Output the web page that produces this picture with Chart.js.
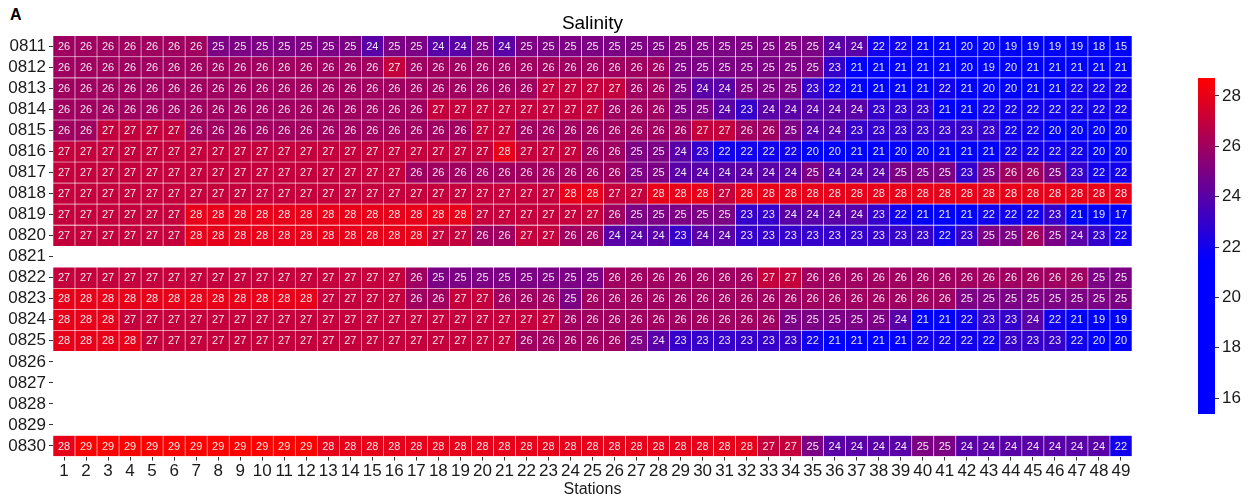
<!DOCTYPE html>
<html>
<head>
<meta charset="utf-8">
<title>Salinity</title>
<script src="https://cdn.jsdelivr.net/npm/chart.js@4.4.0/dist/chart.umd.min.js"></script>
<style>
body{margin:0;background:#fff;width:1250px;height:500px;overflow:hidden;position:relative;font-family:"Liberation Sans",Arial,sans-serif}
#main{position:absolute;left:0;top:0}
#bar{position:absolute;left:1150px;top:0}
#tag{position:absolute;left:10px;top:6px;font-weight:bold;font-size:16px;color:#000}
</style>
</head>
<body>
<div id="tag">A</div>
<canvas id="main" width="1150" height="500"></canvas>
<canvas id="bar" width="100" height="500"></canvas>
<script>
// sampling days (rows) and stations (columns)
var dates = ['0811','0812','0813','0814','0815','0816','0817','0818','0819','0820',
             '0821','0822','0823','0824','0825','0826','0827','0828','0829','0830'];
var stations = ['1','2','3','4','5','6','7','8','9','10','11','12','13','14','15','16','17','18','19','20',
                '21','22','23','24','25','26','27','28','29','30','31','32','33','34','35','36','37','38','39','40',
                '41','42','43','44','45','46','47','48','49'];

// salinity per day, stations 1..49 (no data on 0821, 0826-0829)
var s0811 = [26,26,26,26,26,26,26,25,25,25,25,25, 25,25,24,25,25,24,24,25,24,25,25,25, 25,25,25,25,25,25,25,25,25,25,25,24,24, 22,22,21,21,20,20,19,19,19,19,18,15];
var s0812 = [26,26,26,26,26,26,26,26,26,26,26,26, 26,26,26,27,26,26,26,26,26,26,26,26, 26,26,26,26,25,25,25,25,25,25,25,23,21, 21,21,21,21,20,19,20,21,21,21,21,21];
var s0813 = [26,26,26,26,26,26,26,26,26,26,26,26, 26,26,26,26,26,26,26,26,26,26,27,27, 27,27,26,26,25,24,24,25,25,25,23,22,21, 21,21,21,22,21,20,20,21,21,22,22,22];
var s0814 = [26,26,26,26,26,26,26,26,26,26,26,26, 26,26,26,26,26,27,27,27,27,27,27,27, 27,26,26,26,25,25,24,23,24,24,24,24,24, 23,23,23,21,21,22,22,22,22,22,22,22];
var s0815 = [26,26,27,27,27,27,26,26,26,26,26,26, 26,26,26,26,26,26,26,27,27,26,26,26, 26,26,26,26,26,27,27,26,26,25,24,24,23, 23,23,23,23,23,23,22,22,20,20,20,20];
var s0816 = [27,27,27,27,27,27,27,27,27,27,27,27, 27,27,27,27,27,27,27,27,28,27,27,27, 26,26,25,25,24,23,22,22,22,22,20,20,21, 21,20,20,21,21,21,22,22,22,22,20,20];
var s0817 = [27,27,27,27,27,27,27,27,27,27,27,27, 27,27,27,27,26,26,26,26,26,26,26,26, 26,26,25,25,24,24,24,24,24,24,25,24,24, 24,25,25,25,23,25,26,26,25,23,22,22];
var s0818 = [27,27,27,27,27,27,27,27,27,27,27,27, 27,27,27,27,27,27,27,27,27,27,27,28, 28,27,27,28,28,28,27,28,28,28,28,28,28, 28,28,28,28,28,28,28,28,28,28,28,28];
var s0819 = [27,27,27,27,27,27,28,28,28,28,28,28, 28,28,28,28,28,28,28,27,27,27,27,27, 27,26,25,25,25,25,25,23,23,24,24,24,24, 23,22,21,21,21,22,22,22,23,21,19,17];
var s0820 = [27,27,27,27,27,27,28,28,28,28,28,28, 28,28,28,28,28,27,27,26,26,27,27,26, 26,24,24,24,23,24,24,23,23,23,23,23,23, 23,23,23,22,23,25,25,26,25,24,23,22];
var s0822 = [27,27,27,27,27,27,27,27,27,27,27,27, 27,27,27,27,26,25,25,25,25,25,25,25, 25,26,26,26,26,26,26,26,27,27,26,26,26, 26,26,26,26,26,26,26,26,26,26,25,25];
var s0823 = [28,28,28,28,28,28,28,28,28,28,28,28, 27,27,27,27,26,26,27,27,26,26,26,25, 26,26,26,26,26,26,26,26,26,26,26,26,26, 26,26,26,26,25,25,25,25,25,25,25,25];
var s0824 = [28,28,28,27,27,27,27,27,27,27,27,27, 27,27,27,27,27,27,27,27,27,27,27,26, 26,26,26,26,26,26,26,26,26,25,25,25,25, 25,24,21,21,22,23,23,24,22,21,19,19];
var s0825 = [28,28,28,28,27,27,27,27,27,27,27,27, 27,27,27,27,27,27,27,27,27,26,26,26, 26,26,25,24,23,23,23,23,23,23,22,21,21, 21,21,22,22,22,22,23,23,23,22,20,20];
var s0830 = [28,29,29,29,29,29,29,29,29,29,29,29, 28,28,28,28,28,28,28,28,28,28,28,28, 28,28,28,28,28,28,28,28,27,27,25,24,24, 24,24,25,25,24,24,24,24,24,24,24,22];

var rows = {'0811':s0811,'0812':s0812,'0813':s0813,'0814':s0814,'0815':s0815,'0816':s0816,'0817':s0817,
            '0818':s0818,'0819':s0819,'0820':s0820,'0822':s0822,'0823':s0823,'0824':s0824,'0825':s0825,'0830':s0830};

// colour bar range and labels
var cbMin = 15.37, cbMax = 28.71;
var cbTicks = [16,18,20,22,24,26,28];

Chart.defaults.font.family = '"Liberation Sans", Arial, sans-serif';

// blue -> red, flat blue below ~21.5
function colorFor(v){
    var t = (v - 21.5) / (28.7 - 21.5);
    if (t < 0) t = 0;
    if (t > 1) t = 1;
    return 'rgb(' + Math.round(255*t) + ',0,' + Math.round(255*(1-t)) + ')';
}

var datasets = [];
dates.forEach(function(d, i){
    if (!rows[d]) return;
    datasets.push({
        label: d,
        values: rows[d],
        data: rows[d].map(function(){ return [i-0.5, i+0.5]; }),
        backgroundColor: rows[d].map(colorFor),
        borderColor: 'rgba(255,255,255,0.85)',
        borderWidth: 0.6,
        borderSkipped: false,
        grouped: false,
        categoryPercentage: 1,
        barPercentage: 1
    });
});

var cellText = {
    id: 'cellText',
    afterDatasetsDraw: function(chart){
        var ctx = chart.ctx;
        ctx.save();
        ctx.font = '11px "Liberation Sans", Arial, sans-serif';
        ctx.fillStyle = 'rgba(255,255,255,0.9)';
        ctx.textAlign = 'center';
        ctx.textBaseline = 'middle';
        chart.data.datasets.forEach(function(ds, di){
            chart.getDatasetMeta(di).data.forEach(function(el, j){
                ctx.fillText(ds.values[j], el.x, (el.y + el.base)/2 + 0.5);
            });
        });
        ctx.restore();
    }
};

function main(){
    new Chart(document.getElementById('main').getContext('2d'), {
        type: 'bar',
        data: { labels: stations, datasets: datasets },
        options: {
            responsive: false,
            animation: false,
            layout: { padding: { left: 0, right: 18, top: 0, bottom: 0 } },
            plugins: {
                legend: { display: false },
                tooltip: { enabled: false },
                title: {
                    display: true, text: 'Salinity', fullSize: false, color: '#000',
                    font: { size: 19, weight: 'normal' },
                    padding: { top: 12, bottom: 1 }
                }
            },
            scales: {
                x: {
                    type: 'category',
                    offset: true,
                    grid: { offset: false, drawOnChartArea: false, tickLength: 4, color: '#333' },
                    border: { display: false },
                    ticks: { font: { size: 17 }, color: '#1a1a1a', padding: 1, maxRotation: 0, autoSkip: false },
                    title: { display: true, text: 'Stations', color: '#1a1a1a', font: { size: 16 }, padding: { top: 0, bottom: 1 } },
                    afterFit: function(s){ s.height = 43.5; }
                },
                y: {
                    type: 'linear',
                    min: -0.5, max: 19.5,
                    reverse: true,
                    afterBuildTicks: function(s){ s.ticks = dates.map(function(d, i){ return { value: i }; }); },
                    grid: { drawOnChartArea: false, tickLength: 4, color: '#333' },
                    border: { display: false },
                    ticks: { font: { size: 17 }, color: '#1a1a1a', padding: 3, autoSkip: false,
                             callback: function(v){ return dates[v]; } },
                    afterFit: function(s){ s.width = 53; }
                }
            }
        },
        plugins: [cellText]
    });

    new Chart(document.getElementById('bar').getContext('2d'), {
        type: 'bar',
        data: {
            labels: [''],
            datasets: [{
                data: [[cbMin, cbMax]],
                borderWidth: 0,
                categoryPercentage: 1,
                barPercentage: 1,
                backgroundColor: function(c){
                    var ch = c.chart, a = ch.chartArea;
                    if (!a) return 'blue';
                    var g = ch.ctx.createLinearGradient(0, a.bottom, 0, a.top);
                    for (var v = cbMin; v <= cbMax; v += 0.25) {
                        g.addColorStop((v - cbMin)/(cbMax - cbMin), colorFor(v));
                    }
                    g.addColorStop(1, colorFor(cbMax));
                    return g;
                }
            }]
        },
        options: {
            responsive: false,
            animation: false,
            layout: { padding: { left: 48, right: 0, top: 78, bottom: 86 } },
            plugins: { legend: { display: false }, tooltip: { enabled: false } },
            scales: {
                x: { display: false },
                y: {
                    type: 'linear', position: 'right',
                    min: cbMin, max: cbMax,
                    afterBuildTicks: function(s){ s.ticks = cbTicks.map(function(v){ return { value: v }; }); },
                    grid: { drawOnChartArea: false, tickLength: 4, color: '#333' },
                    border: { display: false },
                    ticks: { font: { size: 17 }, color: '#1a1a1a', padding: 3 },
                    afterFit: function(s){ s.width = 35; }
                }
            }
        }
    });
}

document.addEventListener('DOMContentLoaded', main);
</script>
</body>
</html>
